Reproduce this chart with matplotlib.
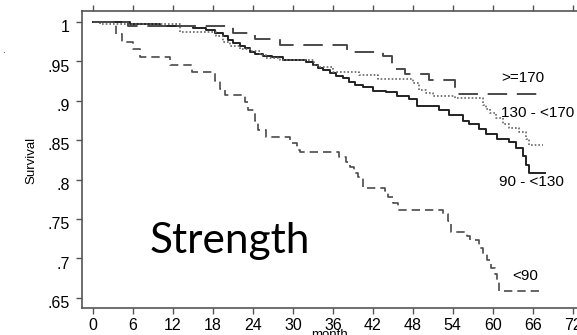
import numpy as np
import matplotlib.pyplot as plt
from matplotlib.transforms import ScaledTranslation

plt.rcParams['font.family'] = ['Liberation Sans', 'DejaVu Sans']

# survival curves: (month, survival) at each step
lt90_t = [0, 3.5, 4.3, 6.0, 7.0, 11.5, 14.8, 18.3, 19.0, 19.8, 22.8, 23.3, 24.3, 24.8,
          26.0, 29.5, 30.6, 31.0, 37.0, 38.0, 38.6, 39.2, 39.8, 40.5, 43.8, 44.3, 45.0,
          45.8, 52.5, 53.3, 53.8, 56.2, 56.6, 58.0, 58.5, 59.1, 59.8, 60.3, 60.7, 61.0, 67.3]
lt90_s = [1.0, 0.985, 0.975, 0.966, 0.955, 0.946, 0.937, 0.925, 0.915, 0.908, 0.898, 0.888,
          0.875, 0.863, 0.854, 0.846, 0.838, 0.835, 0.829, 0.822, 0.816, 0.808, 0.803, 0.789,
          0.785, 0.778, 0.770, 0.762, 0.756, 0.748, 0.734, 0.728, 0.723, 0.713, 0.705, 0.698,
          0.688, 0.680, 0.673, 0.658, 0.658]

ge170_t = [0, 5.3, 21.0, 24.3, 28.0, 38.1, 43.5, 44.9, 46.8, 50.5, 54.3, 67.3]
ge170_s = [1.0, 0.995, 0.986, 0.978, 0.971, 0.962, 0.957, 0.940, 0.934, 0.926, 0.909, 0.909]

mid_t = [0, 1.0, 13.0, 18.5, 19.5, 20.5, 22.0, 23.5, 25.0, 26.0, 28.0, 33.2, 33.8, 36.0,
         40.0, 42.8, 48.0, 49.0, 50.0, 51.0, 54.3, 58.5, 59.0, 59.6, 60.5, 61.5, 62.5,
         64.0, 65.0, 65.5, 67.5]
mid_s = [1.0, 0.997, 0.987, 0.982, 0.975, 0.970, 0.966, 0.963, 0.958, 0.954, 0.952, 0.946,
         0.943, 0.937, 0.933, 0.928, 0.922, 0.914, 0.910, 0.906, 0.903, 0.895, 0.890, 0.885,
         0.878, 0.870, 0.865, 0.860, 0.852, 0.844, 0.844]

low_t = [0, 5.5, 10.0, 15.0, 17.0, 18.3, 19.5, 20.3, 21.0, 22.0, 22.8, 23.5, 24.3, 25.5,
         26.8, 28.5, 32.0, 33.0, 33.8, 34.5, 35.5, 36.5, 37.5, 38.5, 39.3, 40.5, 42.0, 44.0,
         45.6, 47.5, 48.6, 52.0, 53.5, 55.5, 56.5, 58.0, 59.0, 60.6, 62.5, 63.5, 64.5, 65.0,
         65.5, 67.8]
low_s = [1.0, 0.997, 0.995, 0.993, 0.990, 0.986, 0.982, 0.977, 0.973, 0.970, 0.967, 0.962,
         0.960, 0.957, 0.955, 0.952, 0.949, 0.946, 0.942, 0.939, 0.935, 0.932, 0.929, 0.924,
         0.920, 0.917, 0.913, 0.911, 0.906, 0.902, 0.893, 0.888, 0.882, 0.874, 0.870, 0.864,
         0.858, 0.851, 0.848, 0.840, 0.830, 0.818, 0.808, 0.808]

xticks = np.arange(0, 73, 6)
yticks = [0.65, 0.7, 0.75, 0.8, 0.85, 0.9, 0.95, 1.0]
ytick_labels = ['.65', '.7', '.75', '.8', '.85', '.9', '.95', '1']

fig = plt.figure(figsize=(5.77, 3.35), dpi=100)
ax = fig.add_axes([82/577, 27/335, 504/577, 297/335])

grey = '#4a4a4a'
ax.step(low_t, low_s, where='post', color='#222222', lw=1.4)
ax.step(mid_t, mid_s, where='post', color='#666666', lw=1.2, linestyle=(0, (1, 1.2)))
ax.step(ge170_t, ge170_s, where='post', color=grey, lw=1.4, linestyle=(0, (10, 5)))
ax.step(lt90_t, lt90_s, where='post', color=grey, lw=1.2, linestyle=(0, (5, 3)))

ax.set_xlim(-1.65, 74)
ax.set_ylim(0.637, 1.014)
ax.set_xticks(xticks)
ax.set_yticks(yticks)
ax.set_yticklabels(ytick_labels)

ax.spines['right'].set_visible(False)
for s in ['left', 'bottom', 'top']:
    ax.spines[s].set_color('#555555')
    ax.spines[s].set_linewidth(1.2)
ax.tick_params(axis='x', top=True, direction='out', length=4.5, width=1.0,
               color='#555555', labelsize=11.5, pad=2.5)
ax.tick_params(axis='y', direction='out', length=4, width=1.0,
               color='#555555', labelsize=11.5, pad=5)
off = ScaledTranslation(0, -3/72, fig.dpi_scale_trans)
for lab in ax.get_yticklabels():
    lab.set_transform(lab.get_transform() + off)

fig.text(31/577, 1 - 160/335, 'Survival', rotation=90, fontsize=9.5,
         ha='center', va='center')
fig.text(330/577, 1 - 329/335, 'month', fontsize=9.5, ha='center', va='top')
fig.text(3/577, 1 - 50/335, '.', fontsize=7, ha='center', va='center')

ax.text(61.3, 0.929, '>=170', fontsize=11, va='center')
ax.text(61.3, 0.885, '130 - <170', fontsize=11, va='center')
ax.text(61.0, 0.797, '90 - <130', fontsize=11, va='center')
ax.text(63.0, 0.677, '<90', fontsize=11, va='center')

ax.text(8.55, 0.707, 'Strength', fontsize=30.5, family='Lato', va='baseline')

fig.savefig('out.png', dpi=100)
